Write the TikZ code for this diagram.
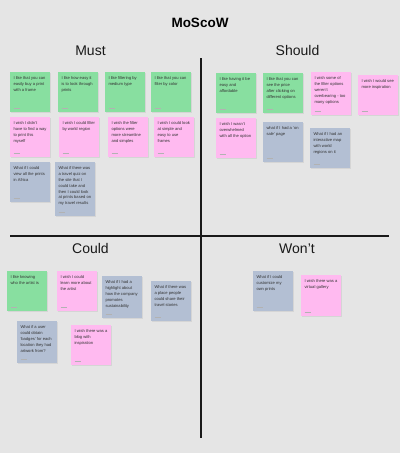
\documentclass[tikz,border=0pt]{standalone}
\usepackage{fontspec}
\setmainfont{Liberation Sans}
\usepackage{tikz}
\usetikzlibrary{shadows, positioning}
\usepackage{xcolor}
\definecolor{board}{HTML}{E5E5E5}
\definecolor{notegreen}{HTML}{88DFA0}
\definecolor{notepink}{HTML}{FFBAF0}
\definecolor{noteslate}{HTML}{B3BFD3}

\begin{document}
\begin{tikzpicture}[
  x=1pt, y=-1pt,
  head/.style={font=\fontsize{14}{16}\selectfont, text=black!90},
  sticky/.style={anchor=north west, minimum width=40pt, minimum height=40pt,
                 inner sep=0pt, label distance=0pt,
                 drop shadow={shadow xshift=0.5pt, shadow yshift=-0.5pt, opacity=0.15},
                 path picture={\draw[black!30, line width=0.6pt]
                   ([shift={(3.5pt,4pt)}]path picture bounding box.south west) -- ++(6pt,0pt);}},
  like/.style={sticky, fill=notegreen},
  wish/.style={sticky, fill=notepink},
  whatif/.style={sticky, fill=noteslate},
  note/.style={anchor=north west, inner sep=0pt, align=left, xshift=3.3pt, yshift=-4.8pt,
               font=\fontsize{4.1}{5.8}\selectfont, text=black!80},
  divider/.style={line width=2.5pt, black!90}
]
  %--- board ---
  \fill[board] (0,0) rectangle (400,453);
  \useasboundingbox (0,0) rectangle (400,453);

  \node[font=\fontsize{13.5}{16}\selectfont\bfseries] (title) at (200,23) {MoScoW};

  \draw[divider] (201,58) -- (201,438);
  \draw[divider] (10,236) -- (389,236);

  \node[head] (must)   at (90.5,50.5)  {Must};
  \node[head] (should) at (297.5,50.5) {Should};
  \node[head] (could)  at (90.5,248.5) {Could};
  \node[head] (wont)   at (297,248.5)  {Won’t};

  %--- must ---
  \node[like, label={[note]north west:{I like that you can\\easily buy a print\\with a frame}}]
    (must1) at (10,72) {};
  \node[like, label={[note]north west:{I like how easy it\\is to look through\\prints}}]
    (must2) at (58,72) {};
  \node[like, label={[note]north west:{I like filtering by\\medium type}}]
    (must3) at (105,72) {};
  \node[like, label={[note]north west:{I like that you can\\filter by color}}]
    (must4) at (151,72) {};
  \node[wish, label={[note]north west:{I wish I didn't\\have to find a way\\to print this\\myself}}]
    (must5) at (10,117) {};
  \node[wish, label={[note]north west:{I wish I could filter\\by world region}}]
    (must6) at (59,117) {};
  \node[wish, label={[note]north west:{I wish the filter\\options were\\more streamline\\and simples}}]
    (must7) at (108,117) {};
  \node[wish, label={[note]north west:{I wish I could look\\at simple and\\easy to use\\frames}}]
    (must8) at (154,117) {};
  \node[whatif, label={[note]north west:{What if I could\\view all the prints\\in Africa}}]
    (must9) at (10,162) {};
  \node[whatif, minimum height=54pt,
        label={[note]north west:{What if there was\\a travel quiz on\\the site that I\\could take and\\then I could look\\at prints based on\\my travel results}}]
    (must10) at (55,162) {};

  %--- should ---
  \node[like, label={[note]north west:{I like having it be\\easy and\\affordable}}]
    (should1) at (216,73) {};
  \node[like, label={[note]north west:{I like that you can\\see the price\\after clicking on\\different options}}]
    (should2) at (263,73) {};
  \node[wish, minimum height=43pt,
        label={[note]north west:{I wish some of\\the filter options\\weren't\\overbearing - too\\many options}}]
    (should3) at (311,72) {};
  \node[wish, label={[note]north west:{I wish I would see\\more inspiration}}]
    (should4) at (358,75) {};
  \node[wish, label={[note]north west:{I wish I wasn't\\overwhelmed\\with all the option}}]
    (should5) at (216,118) {};
  \node[whatif, label={[note]north west:{what if I had a 'on\\sale' page}}]
    (should6) at (263,122) {};
  \node[whatif, label={[note]north west:{What if I had an\\interactive map\\with world\\regions on it}}]
    (should7) at (310,128) {};

  %--- could ---
  \node[like, label={[note]north west:{I like knowing\\who the artist is}}]
    (could1) at (7,271) {};
  \node[wish, label={[note]north west:{I wish I could\\learn more about\\the artist}}]
    (could2) at (57,271) {};
  \node[whatif, minimum height=42pt,
        label={[note]north west:{What if I had a\\highlight about\\how the company\\promotes\\sustainability}}]
    (could3) at (102,276) {};
  \node[whatif, label={[note]north west:{What if there was\\a place people\\could share their\\travel stories}}]
    (could4) at (151,281) {};
  \node[whatif, minimum height=42pt,
        label={[note]north west:{What if a user\\could obtain\\'badges' for each\\location they had\\artwork from?}}]
    (could5) at (17,321) {};
  \node[wish, label={[note]north west:{I wish there was a\\blog with\\inspiration}}]
    (could6) at (71,325) {};

  %--- won't ---
  \node[whatif, label={[note]north west:{What if I could\\customize my\\own prints}}]
    (wont1) at (253,271) {};
  \node[wish, minimum height=41pt,
        label={[note]north west:{I wish there was a\\virtual gallery}}]
    (wont2) at (301,275) {};
\end{tikzpicture}
\end{document}
